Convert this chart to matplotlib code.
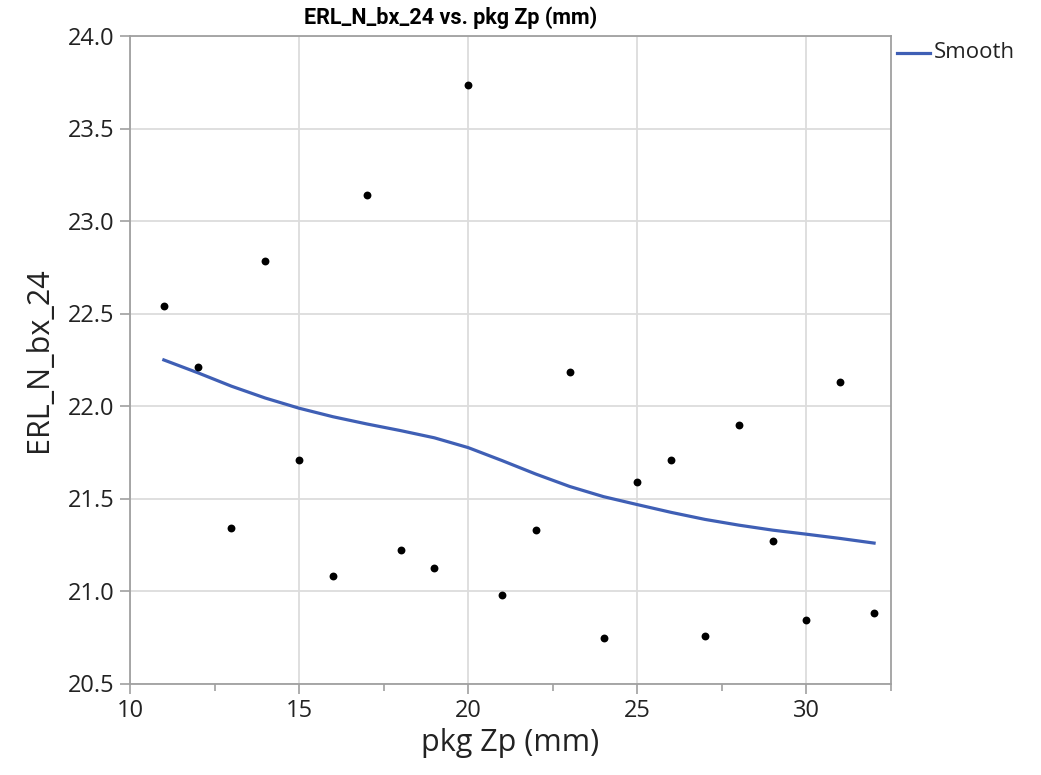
import matplotlib
matplotlib.use("Agg")
import matplotlib.pyplot as plt
from matplotlib.lines import Line2D
from matplotlib.ticker import MultipleLocator, FormatStrFormatter

plt.rcParams['font.family'] = ['Open Sans', 'DejaVu Sans']

pkg_zp = [11, 12, 13, 14, 15, 16, 17, 18, 19, 20, 21, 22, 23, 24, 25, 26, 27, 28, 29, 30, 31, 32]
erl = [22.54, 22.21, 21.34, 22.785, 21.706, 21.082, 23.141, 21.222, 21.123, 23.733, 20.977,
       21.332, 22.184, 20.746, 21.588, 21.706, 20.755, 21.897, 21.271, 20.842, 22.128, 20.879]

smooth_x = [11, 12, 13, 14, 15, 16, 17, 18, 19, 20, 21, 22, 23, 24, 25, 26, 27, 28, 29, 30, 31, 32]
smooth_y = [22.249, 22.18, 22.107, 22.043, 21.988, 21.942, 21.903, 21.867, 21.828, 21.775, 21.705,
            21.632, 21.565, 21.51, 21.467, 21.425, 21.387, 21.356, 21.329, 21.307, 21.284, 21.259]

W, H = 1041, 775
fig = plt.figure(figsize=(W/100, H/100), dpi=100)
ax = fig.add_axes([130/W, 1-683.5/H, (891-130)/W, (683.5-36)/H])

ax.plot(smooth_x, smooth_y, color='#3f5fb5', lw=2.3, zorder=3, solid_joinstyle='round')
ax.scatter(pkg_zp, erl, s=32, color='black', zorder=4, linewidths=0)

ax.set_xlim(10, 32.5)
ax.set_ylim(20.5, 24.0)
ax.xaxis.set_major_locator(MultipleLocator(5))
ax.xaxis.set_minor_locator(MultipleLocator(2.5))
ax.yaxis.set_major_locator(MultipleLocator(0.5))
ax.yaxis.set_major_formatter(FormatStrFormatter('%.1f'))
ax.grid(True, which='major', color='#dcdcdc', lw=1.3, zorder=0)
ax.set_axisbelow(True)
for s in ax.spines.values():
    s.set_color('#a0a0a0')
    s.set_linewidth(1.3)
ax.tick_params(which='both', direction='out', color='#a0a0a0', width=1.2)
ax.tick_params(which='major', length=7, labelsize=17, labelcolor='#222222', pad=4)
ax.tick_params(which='minor', length=5)

ax.set_xlabel('pkg Zp (mm)', fontsize=22, color='#222222', labelpad=4)
ax.set_ylabel('ERL_N_bx_24', fontsize=22, color='#222222', labelpad=10)

fig.text(451/W, 1-18/H, 'ERL_N_bx_24 vs. pkg Zp (mm)', ha='center', va='center',
         fontsize=15.5, fontweight='bold', family=['Roboto', 'Open Sans'], color='black')

fig.add_artist(Line2D([897/W, 930/W], [1-53/H, 1-53/H], color='#3f5fb5', lw=2.3))
fig.text(934/W, 1-53/H, 'Smooth', ha='left', va='center', fontsize=16, color='#222222')

fig.savefig('out.png', dpi=100, facecolor='white')
